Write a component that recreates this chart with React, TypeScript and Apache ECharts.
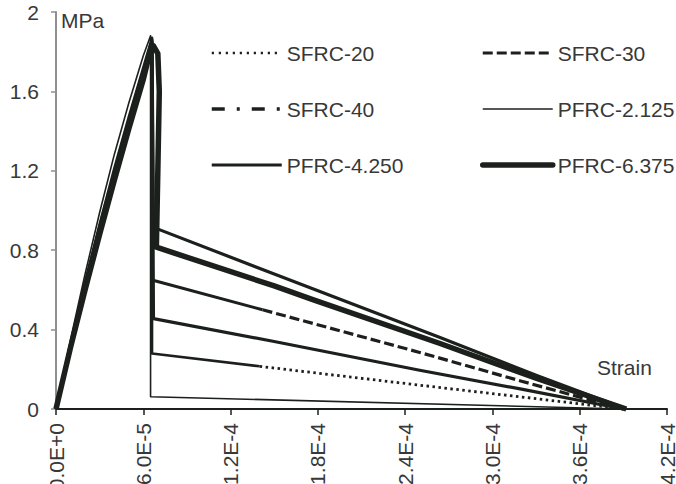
import React, { useEffect, useRef } from "react";
import * as echarts from "echarts";

// ---- data (strain, stress in MPa) ----
// dense (solid-looking) part of SFRC-20 and its sparse dotted tail
const sfrc20Dense: [number, number][] = [
  [0, 0], [1.0e-5, 0.33], [2.0e-5, 0.64], [3.0e-5, 0.93], [4.0e-5, 1.21],
  [5.0e-5, 1.47], [6.0e-5, 1.72], [6.6e-5, 1.87], [6.6e-5, 0.28], [1.4e-4, 0.215],
];
const sfrc20Tail: [number, number][] = [
  [1.4e-4, 0.215], [2.5e-4, 0.12], [3.3e-4, 0.052], [3.9e-4, 0],
];
const sfrc30Dense: [number, number][] = [
  [0, 0], [1.0e-5, 0.32], [2.0e-5, 0.63], [3.0e-5, 0.92], [4.0e-5, 1.19],
  [5.0e-5, 1.45], [6.0e-5, 1.7], [6.6e-5, 1.86], [6.6e-5, 0.65], [1.42e-4, 0.5],
];
const sfrc30Tail: [number, number][] = [
  [1.42e-4, 0.5], [2.5e-4, 0.285], [3.2e-4, 0.14], [3.9e-4, 0],
];
const sfrc40Data: [number, number][] = [
  [0, 0], [1.0e-5, 0.31], [2.0e-5, 0.61], [3.0e-5, 0.9], [4.0e-5, 1.17],
  [5.0e-5, 1.43], [6.0e-5, 1.68], [6.6e-5, 1.84], [6.7e-5, 0.915], [1.5e-4, 0.68],
  [2.64e-4, 0.36], [3.3e-4, 0.17], [3.92e-4, 0],
];
const pfrc2Data: [number, number][] = [
  [0, 0], [1.0e-5, 0.35], [2.0e-5, 0.68], [3.0e-5, 0.99], [4.0e-5, 1.28],
  [5.0e-5, 1.54], [6.0e-5, 1.78], [6.5e-5, 1.88], [6.5e-5, 0.062], [3.9e-4, 0],
];
const pfrc4Data: [number, number][] = [
  [0, 0], [1.0e-5, 0.32], [2.0e-5, 0.62], [3.0e-5, 0.91], [4.0e-5, 1.18],
  [5.0e-5, 1.44], [6.0e-5, 1.69], [6.6e-5, 1.85], [6.7e-5, 0.455], [1.5e-4, 0.34],
  [2.5e-4, 0.195], [3.2e-4, 0.1], [3.9e-4, 0],
];
const pfrc6Data: [number, number][] = [
  [0, 0], [1.0e-5, 0.31], [2.0e-5, 0.6], [3.0e-5, 0.88], [4.0e-5, 1.15],
  [5.0e-5, 1.41], [6.0e-5, 1.66], [6.4e-5, 1.78], [6.7e-5, 1.83], [7.0e-5, 1.79],
  [7.1e-5, 1.6], [7.0e-5, 1.2], [6.9e-5, 0.815], [1.5e-4, 0.62], [1.77e-4, 0.55],
  [2.64e-4, 0.33], [3.3e-4, 0.155], [3.92e-4, 0],
];

const legendLeft = ["SFRC-20", "SFRC-40", "PFRC-4.250"];
const legendRight = ["SFRC-30", "PFRC-2.125", "PFRC-6.375"];

const INK = "#1c201d";
const TEXT = "#383838";
const FONT = "'Liberation Sans', Arial, Helvetica, sans-serif";

const styles: Record<string, { width: number; type: any; cap?: string }> = {
  "SFRC-20": { width: 2.5, type: [2.2, 4.8] },
  "SFRC-30": { width: 3, type: [10, 4] },
  "SFRC-40": { width: 3.5, type: [13, 12, 3, 12] },
  "PFRC-2.125": { width: 1.6, type: "solid" },
  "PFRC-4.250": { width: 3, type: "solid" },
  "PFRC-6.375": { width: 5.5, type: "solid", cap: "round" },
};

function legendItems(names: string[]) {
  return names.map((n) => ({
    name: n,
    lineStyle: {
      width: styles[n].width,
      type: styles[n].type,
      color: INK,
      cap: styles[n].cap || "butt",
    },
  }));
}

function lineSeries(name: string, data: [number, number][], width: number, type: any) {
  return {
    name,
    type: "line",
    data,
    symbol: "none",
    showSymbol: false,
    clip: false,
    lineStyle: { color: INK, width, type, join: "round" },
    itemStyle: { color: INK },
    emphasis: { disabled: true },
  };
}

export default function App() {
  const ref = useRef<HTMLDivElement>(null);
  useEffect(() => {
    const chart = echarts.init(ref.current!, null, { renderer: "svg" });
    const legendBase = {
      orient: "vertical",
      itemWidth: 70,
      itemHeight: 14,
      itemGap: 32,
      selectedMode: false,
      padding: 0,
      textStyle: { fontSize: 21, lineHeight: 24, color: TEXT, fontFamily: FONT },
      itemStyle: { opacity: 0 },
    };
    chart.setOption({
      animation: false,
      backgroundColor: "#ffffff",
      textStyle: { fontFamily: FONT },
      grid: {
        left: 56,
        right: 9,
        top: 12,
        bottom: 75,
        containLabel: false,
        outerBoundsMode: "none",
      },
      legend: [
        { ...legendBase, left: 210, top: 41, data: legendItems(legendLeft) },
        { ...legendBase, left: 480, top: 41, data: legendItems(legendRight) },
      ],
      xAxis: {
        type: "value",
        min: 0,
        max: 4.2e-4,
        interval: 6e-5,
        splitLine: { show: false },
        axisLine: { onZero: false, lineStyle: { color: INK, width: 2 } },
        axisTick: { length: 6, lineStyle: { color: INK, width: 1.5 } },
        axisLabel: {
          rotate: 90,
          margin: 14,
          fontSize: 21,
          color: TEXT,
          fontFamily: FONT,
          showMaxLabel: true,
          formatter: (v: number) => v.toExponential(1).toUpperCase(),
        },
      },
      yAxis: {
        type: "value",
        min: 0,
        max: 2,
        interval: 0.4,
        splitLine: { show: false },
        axisLine: { show: true, lineStyle: { color: "#8f8f8f", width: 2 } },
        axisTick: { show: true, length: 5, lineStyle: { color: "#8f8f8f", width: 1.5 } },
        axisLabel: {
          margin: 17,
          fontSize: 21,
          color: TEXT,
          fontFamily: FONT,
          formatter: (v: number) => String(+v.toFixed(1)),
        },
      },
      graphic: [
        { type: "text", left: 61, top: 10, style: { text: "MPa", fontSize: 21, fill: TEXT, fontFamily: FONT } },
        { type: "text", left: 597, top: 357, style: { text: "Strain", fontSize: 21, fill: TEXT, fontFamily: FONT } },
      ],
      series: [
        lineSeries("PFRC-2.125", pfrc2Data, styles["PFRC-2.125"].width, "solid"),
        lineSeries("SFRC-20 dense", sfrc20Dense, 2.6, "solid"),
        lineSeries("SFRC-20", sfrc20Tail, 2.8, [2.5, 3.5]),
        lineSeries("SFRC-30 dense", sfrc30Dense, 3, "solid"),
        lineSeries("SFRC-30", sfrc30Tail, 3.2, [10, 4]),
        lineSeries("PFRC-4.250", pfrc4Data, 3.2, "solid"),
        lineSeries("SFRC-40", sfrc40Data, 3.2, "solid"),
        lineSeries("PFRC-6.375", pfrc6Data, 5.5, "solid"),
      ],
    });
    return () => chart.dispose();
  }, []);
  return (
    <div
      ref={ref}
      style={{ position: "absolute", left: 0, top: 0, width: 676, height: 484 }}
    />
  );
}
